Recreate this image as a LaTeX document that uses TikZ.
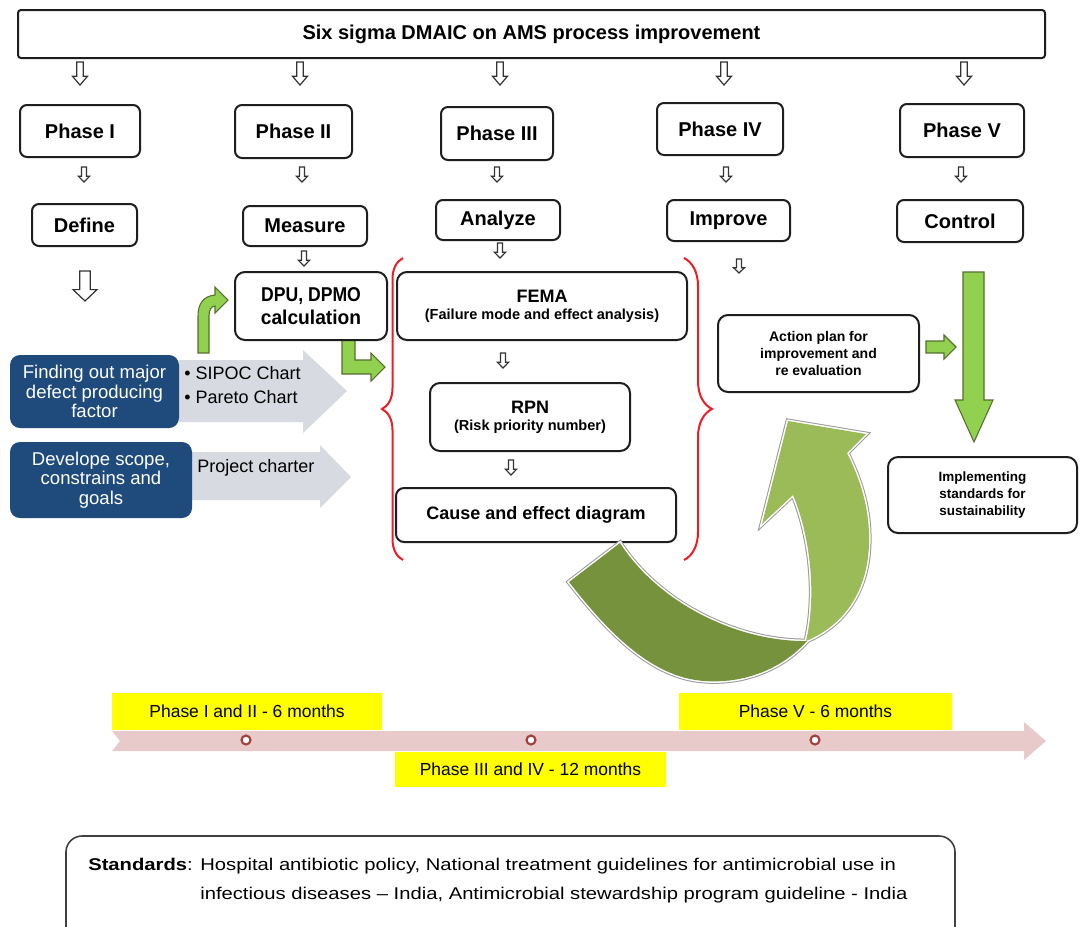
\documentclass[tikz,border=0pt]{standalone}
\usepackage{fontspec}
\setmainfont{Liberation Sans}
\usetikzlibrary{decorations.pathreplacing}

\newlength\pu
\setlength\pu{0.75pt}

\definecolor{boxline}{HTML}{1E1E1E}
\definecolor{navy}{HTML}{1F4A7C}
\definecolor{greyarrow}{HTML}{D7DAE1}
\definecolor{leaf}{HTML}{92D050}
\definecolor{leafline}{HTML}{56702F}
\definecolor{olivedark}{HTML}{76923C}
\definecolor{olivelight}{HTML}{9BBB59}
\definecolor{bracered}{HTML}{EE1C25}
\definecolor{band}{HTML}{E8CACA}
\definecolor{dotred}{HTML}{A3403F}
\definecolor{hilite}{HTML}{FFFF00}

% small white block arrow pointing down: centre x, top y, width, height
\newcommand\hollowdown[4]{%
  \draw[hollowarrow] ({#1-0.22*#3},#2) -- ({#1+0.22*#3},#2) -- ({#1+0.22*#3},{#2+0.62*#4})
    -- ({#1+0.5*#3},{#2+0.62*#4}) -- (#1,{#2+#4}) -- ({#1-0.5*#3},{#2+0.62*#4})
    -- ({#1-0.22*#3},{#2+0.62*#4}) -- cycle;}

\begin{document}
\begin{tikzpicture}[x=0.75pt,y=-0.75pt,
  box/.style={draw=boxline, line width=1.5pt, rounded corners=7\pu, fill=white,
              align=center, inner sep=0pt},
  titlebox/.style={box, rounded corners=3\pu},
  bluebox/.style={fill=navy, rounded corners=10\pu, text=white, align=center, inner sep=0pt,
              font=\fontsize{13.9pt}{14.8pt}\selectfont},
  lbl/.style={font=\fontsize{15pt}{18pt}\selectfont\bfseries},
  hollowarrow/.style={draw=black!80, line width=0.9pt, fill=white, line join=miter},
  greenarrow/.style={fill=leaf, draw=leafline, line width=0.8pt, line join=miter},
  greyblock/.style={fill=greyarrow},
  bracestyle/.style={draw=bracered, line width=1.5pt, decorate},
  yellowbox/.style={fill=hilite, inner sep=0pt, font=\fontsize{13.1pt}{15pt}\selectfont},
  milestone/.style={circle, draw=dotred, fill=white, line width=1.6pt, minimum size=9\pu, inner sep=0pt},
  plain/.style={inner sep=0pt}
]
\useasboundingbox (0,0) rectangle (1080,926);
\fill[white] (0,0) rectangle (1080,926);

% ---------- header and phases ----------
\node[titlebox, lbl, minimum width=1027\pu, minimum height=48\pu] (title) at (531.5,34)
  {Six sigma DMAIC on AMS process improvement};

\foreach \x in {80,300,500,724,964} {\hollowdown{\x}{62}{15}{23}}

\node[box, lbl, minimum width=120\pu, minimum height=52\pu] (p1) at (80,131) {Phase I};
\node[box, lbl, minimum width=117\pu, minimum height=53\pu] (p2) at (293.5,131.5) {Phase II};
\node[box, lbl, minimum width=112\pu, minimum height=53\pu] (p3) at (497,133.5) {Phase III};
\node[box, lbl, minimum width=126\pu, minimum height=52\pu] (p4) at (720,129) {Phase IV};
\node[box, lbl, minimum width=124\pu, minimum height=53\pu] (p5) at (962,130.5) {Phase V};

\foreach \x in {84,302,497,726,961} {\hollowdown{\x}{167}{11}{15}}

\node[box, lbl, minimum width=105\pu, minimum height=42\pu] (define) at (84.5,225) {Define};
\node[box, lbl, minimum width=124\pu, minimum height=40\pu] (measure) at (305,226) {Measure};
\node[box, lbl, minimum width=124\pu, minimum height=40\pu] (analyze) at (498,220) {Analyze};
\node[box, lbl, minimum width=123\pu, minimum height=41\pu] (improve) at (728.5,220.5) {Improve};
\node[box, lbl, minimum width=126\pu, minimum height=42\pu] (control) at (960,221) {Control};

\hollowdown{85}{271}{24}{30}
\hollowdown{304}{251}{11}{15}
\hollowdown{500}{243}{11}{15}
\hollowdown{739}{259}{11}{14}

% ---------- Define / Measure column ----------
\fill[greyblock] (179,360) -- (303,360) -- (303,350) -- (347,391) -- (303,433) -- (303,422) -- (179,422) -- cycle;
\fill[greyblock] (192,452) -- (320,452) -- (320,445) -- (351,477) -- (320,508) -- (320,500) -- (192,500) -- cycle;

\node[bluebox, minimum width=169\pu, minimum height=73\pu] (defect) at (94.5,391.5)
  {Finding out major\\defect producing\\factor};
\node[bluebox, minimum width=182\pu, minimum height=76\pu] (scope) at (101,480)
  {Develope scope,\\constrains and\\goals};

\node[plain, anchor=west, font=\fontsize{13.5pt}{16pt}\selectfont] (sipoc) at (184,373) {• SIPOC Chart};
\node[plain, anchor=west, font=\fontsize{13.5pt}{16pt}\selectfont] (pareto) at (184,397) {• Pareto Chart};
\node[plain, anchor=west, font=\fontsize{13.5pt}{16pt}\selectfont] (charter) at (197,468) {Project charter};

\draw[greenarrow] (198,353) -- (198,316) .. controls (198,303) and (204,296) .. (215,295)
  -- (215,287) -- (228,300) -- (215,313) -- (215,306) .. controls (212,306) and (209,309) .. (209,316)
  -- (209,353) -- cycle;
\draw[greenarrow] (342,339) -- (342,374) -- (371,374) -- (371,381) -- (385,367) -- (371,353)
  -- (371,360) -- (355,360) -- (355,339) -- cycle;

\node[box, rounded corners=10\pu, minimum width=152\pu, minimum height=68\pu,
      font=\fontsize{15pt}{17.4pt}\selectfont\bfseries] (dpu) at (311,306)
  {\scalebox{0.88}[1]{DPU, DPMO}\\\scalebox{0.96}[1]{calculation}};

% ---------- Analyze column ----------
\draw[bracestyle, decoration={brace, amplitude=21\pu}] (403,560) -- (403,258);
\draw[bracestyle, decoration={brace, amplitude=28\pu}] (684,258) -- (684,560);

\node[box, rounded corners=10\pu, minimum width=290\pu, minimum height=68\pu] (fema) at (542,306)
  {\fontsize{13.5pt}{16pt}\selectfont\bfseries FEMA\\[1pt]
   \fontsize{10.9pt}{13pt}\selectfont\bfseries (Failure mode and effect analysis)};
\hollowdown{503}{353}{11}{15}
\node[box, rounded corners=10\pu, minimum width=200\pu, minimum height=68\pu] (rpn) at (530,417)
  {\fontsize{13.5pt}{16pt}\selectfont\bfseries RPN\\[1pt]
   \fontsize{10.9pt}{13pt}\selectfont\bfseries (Risk priority number)};
\hollowdown{511}{460}{11}{15}
\node[box, rounded corners=8\pu, minimum width=280\pu, minimum height=54\pu,
      font=\fontsize{13.5pt}{16pt}\selectfont\bfseries] (cause) at (536,515) {Cause and effect diagram};

% ---------- twisted return arrow ----------
\path[save path=\ribbonback]
  (569,582) .. controls (605,628) and (650,678) .. (705,681)
  .. controls (748,684) and (785,666) .. (807,641)
  .. controls (740,642) and (660,605) .. (620,543) -- cycle;
\path[save path=\ribbonfront]
  (806,641) .. controls (845,625) and (868,590) .. (869,543)
  .. controls (870,505) and (858,475) .. (847,453) -- (866,434) -- (788,421) -- (762,524)
  -- (793,495) .. controls (808,530) and (818,590) .. (806,641) -- cycle;
\draw[use path=\ribbonback, draw=black!40, line width=5\pu];
\draw[use path=\ribbonfront, draw=black!40, line width=5\pu];
\draw[use path=\ribbonback, draw=white, line width=3\pu];
\draw[use path=\ribbonfront, draw=white, line width=3\pu];
\fill[use path=\ribbonback, fill=olivedark];
\fill[use path=\ribbonfront, fill=olivelight];

% ---------- Improve / Control columns ----------
\node[box, rounded corners=10\pu, minimum width=201\pu, minimum height=77\pu,
      font=\fontsize{10.5pt}{12.75pt}\selectfont\bfseries] (action) at (818.5,353.5)
  {Action plan for\\improvement and\\re evaluation};
\draw[greenarrow] (926,341) -- (944,341) -- (944,335) -- (956,347) -- (944,359) -- (944,353) -- (926,353) -- cycle;
\draw[greenarrow] (963,272) -- (984,272) -- (984,400) -- (993,400) -- (974,442) -- (955,400) -- (963,400) -- cycle;
\node[box, rounded corners=10\pu, minimum width=189\pu, minimum height=76\pu,
      font=\fontsize{10.1pt}{13.1pt}\selectfont\bfseries] (sustain) at (982.5,495)
  {Implementing\\standards for\\sustainability};

% ---------- timeline ----------
\fill[band] (112,731) -- (1024,731) -- (1024,722) -- (1046,741) -- (1024,760) -- (1024,751)
  -- (112,751) -- (120,741) -- cycle;
\node[yellowbox, minimum width=270\pu, minimum height=37\pu] (t1) at (247,711.5) {Phase I and II - 6 months};
\node[yellowbox, minimum width=271\pu, minimum height=35\pu] (t2) at (530.5,769.5) {Phase III and IV - 12 months};
\node[yellowbox, minimum width=273\pu, minimum height=37\pu] (t3) at (815.5,711.5) {Phase V - 6 months};
\node[milestone] (m1) at (246,740) {};
\node[milestone] (m2) at (531,740) {};
\node[milestone] (m3) at (815,740) {};

% ---------- standards ----------
\draw[draw=black!75, line width=1.2pt, rounded corners=16\pu] (66,836) rectangle (955,950);
\node[plain, anchor=base west, font=\fontsize{12.75pt}{15pt}\selectfont] (stdA) at (88,870)
  {\scalebox{1.19}[1]{\textbf{Standards}: Hospital antibiotic policy, National treatment guidelines for antimicrobial use in}};
\node[plain, anchor=base west, font=\fontsize{12.75pt}{15pt}\selectfont] (stdB) at (200,899)
  {\scalebox{1.19}[1]{infectious diseases – India, Antimicrobial stewardship program guideline - India}};
\end{tikzpicture}
\end{document}
